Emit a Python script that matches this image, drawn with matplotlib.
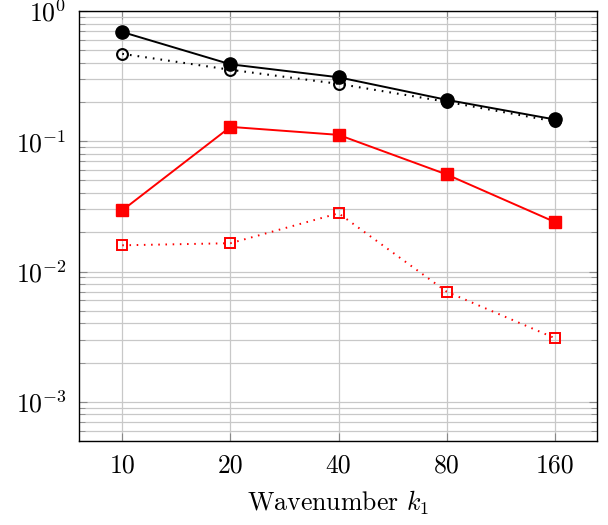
import numpy as np
import matplotlib
matplotlib.use("Agg")
import matplotlib.pyplot as plt
from matplotlib.ticker import LogLocator, NullLocator, FixedLocator, FixedFormatter

plt.rcParams['font.family'] = 'cmr10'
plt.rcParams['mathtext.fontset'] = 'cm'
plt.rcParams['axes.formatter.use_mathtext'] = True

k = [10, 20, 40, 80, 160]
k_labels = ['10', '20', '40', '80', '160']
black_solid = [0.69, 0.39, 0.31, 0.208, 0.147]
black_dotted = [0.469, 0.354, 0.276, 0.201, 0.142]
red_solid = [0.0295, 0.129, 0.112, 0.0556, 0.024]
red_dotted = [0.0159, 0.0165, 0.028, 0.0070, 0.00308]

dots = (0, (0.8, 2.9))

fig = plt.figure(figsize=(6.08, 5.25), dpi=100)
ax = fig.add_axes([0.130, 0.160, 0.852, 0.819])

ax.plot(k, black_solid, '-', color='black', lw=1.4, marker='o', ms=9.5, zorder=4)
ax.plot(k, black_dotted, linestyle=dots, color='black', lw=1.5, marker='o', ms=7.8,
        mfc='none', mew=1.5, zorder=4)
ax.plot(k, red_solid, '-', color='red', lw=1.4, marker='s', ms=8.5, zorder=4)
ax.plot(k, red_dotted, linestyle=dots, color='red', lw=1.4, marker='s', ms=7.5,
        mfc='none', mew=1.4, zorder=4)

ax.set_xscale('log', base=2)
ax.set_yscale('log')
ax.set_xlim(10 * 2 ** -0.4, 10 * 2 ** 4.39)
ax.set_ylim(5e-4, 1)

ax.xaxis.set_major_locator(FixedLocator(k))
ax.xaxis.set_major_formatter(FixedFormatter(k_labels))
ax.xaxis.set_minor_locator(NullLocator())
ax.yaxis.set_major_locator(LogLocator(base=10, numticks=10))
ax.yaxis.set_minor_locator(LogLocator(base=10, subs=np.arange(2, 10), numticks=20))

ax.grid(True, which='major', color='#c8c8c8', lw=0.9)
ax.grid(True, which='minor', axis='y', color='#c8c8c8', lw=0.9)
ax.set_axisbelow(True)

ax.tick_params(which='both', direction='in', top=True, right=True,
               color='#888888', labelsize=18.5, pad=9)
ax.tick_params(which='major', length=6)
ax.tick_params(which='minor', length=4)
for s in ax.spines.values():
    s.set_linewidth(1.0)

ax.set_xlabel('Wavenumber $k_1$', fontsize=18.6, labelpad=8)

fig.savefig('out.png', dpi=100)
